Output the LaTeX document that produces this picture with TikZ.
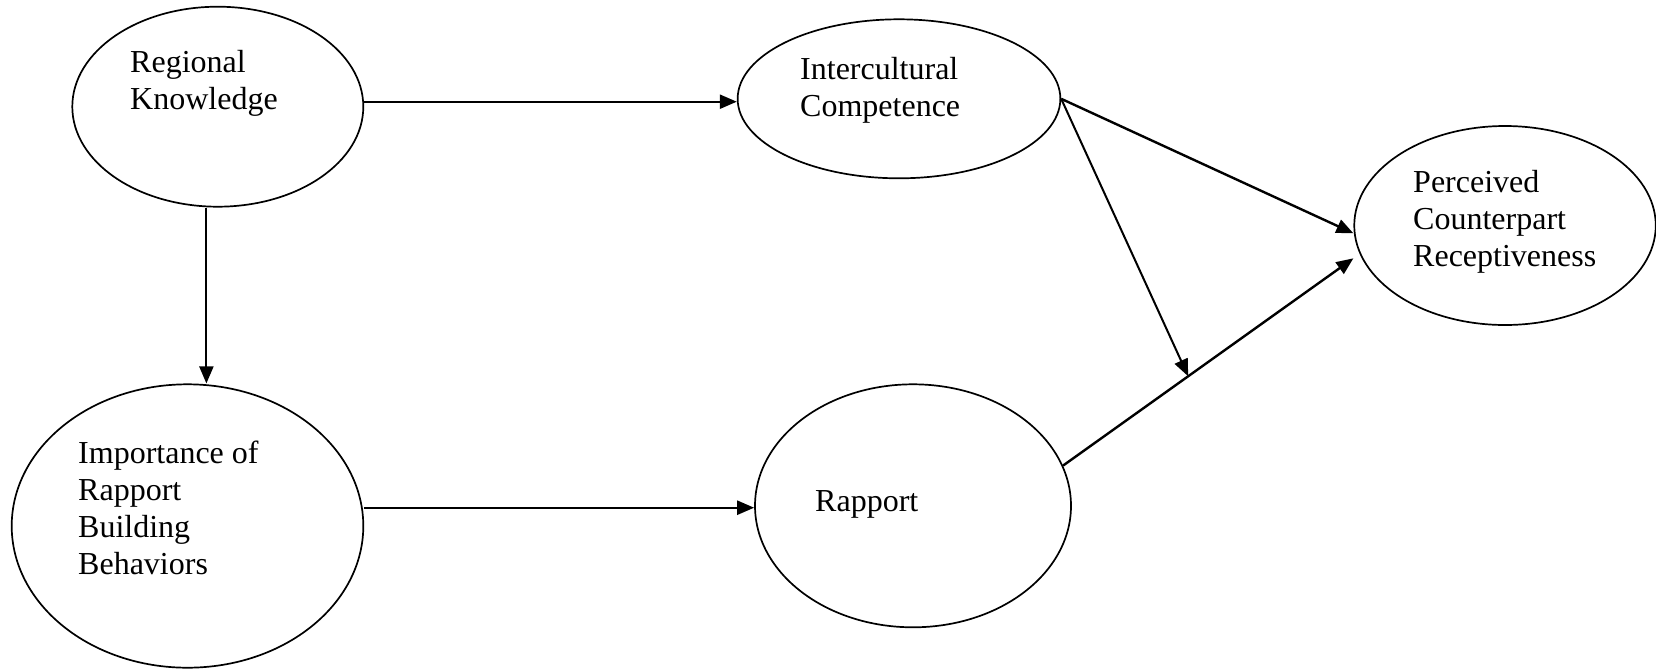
\documentclass[tikz,border=0pt]{standalone}
\usepackage{fontspec}
\setmainfont{Liberation Serif}
\usetikzlibrary{shapes.geometric,arrows.meta,calc}
\begin{document}
\begin{tikzpicture}[x=1pt,y=-1pt,
  latent/.style={draw,ellipse,line width=1.7pt,inner sep=0pt},
  lbl/.style={anchor=north west,inner sep=0pt,align=left,font=\fontsize{32}{37}\selectfont},
  arr/.style={line width=2.4pt,-{Triangle[length=17pt,width=14pt]}},
  thinarr/.style={line width=2pt,-{Triangle[length=17pt,width=14pt]}},
  ]
\useasboundingbox (0,0) rectangle (1656,670);
% ellipses
\node[latent,minimum width=291pt,minimum height=200pt] (reg) at (217.8,106.7) {};
\node[latent,minimum width=322.7pt,minimum height=159pt] (ic) at (899,98.8) {};
\node[latent,minimum width=301.5pt,minimum height=199pt] (pcr) at (1505,225.5) {};
\node[latent,minimum width=351.6pt,minimum height=283.4pt] (imp) at (187.5,526) {};
\node[latent,minimum width=316pt,minimum height=243pt] (rap) at (913,505.8) {};
% labels
\node[lbl] (regt) at (130,50) {Regional\\Knowledge};
\node[lbl] (ict) at (800,57) {Intercultural\\Competence};
\node[lbl] (pcrt) at (1413,170) {Perceived\\Counterpart\\Receptiveness};
\node[lbl] (impt) at (78,440.5) {Importance of\\Rapport\\Building\\Behaviors};
\node[lbl,anchor=base west] (rapt) at (815,511.7) {Rapport};
% connectors
\draw[arr] ([yshift=5pt]reg.east) -- ([yshift=5pt]reg.east -| ic.west);
\draw[thinarr] ([xshift=-11.4pt]reg.south) -- ([xshift=-11.4pt]reg.south |- imp.north);
\draw[arr] ([yshift=18.3pt]imp.east) -- ([yshift=18.3pt]imp.east -| rap.west);
\coordinate (pin1) at ([yshift=-7.8pt]pcr.west);
\coordinate (pin2) at ([yshift=-32.8pt]pcr.west);
\coordinate (rout) at (rap.15.5);
\coordinate (mod) at ($(rout)!0.431!(pin2)$);
\draw[arr] (ic.east) -- (pin1);
\draw[thinarr] (ic.east) -- (mod);
\draw[arr] (rout) -- (pin2);
\end{tikzpicture}
\end{document}
